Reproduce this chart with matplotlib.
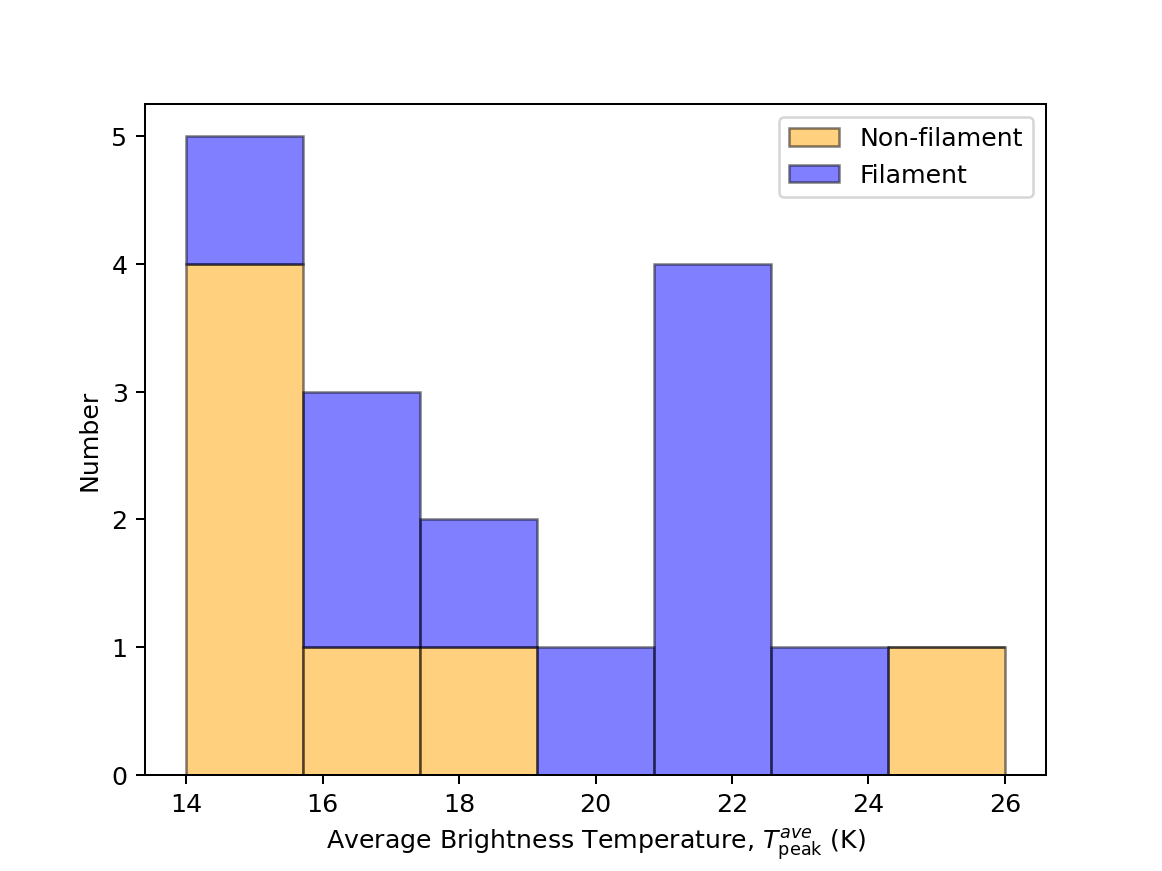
import matplotlib
matplotlib.use("Agg")
import matplotlib.pyplot as plt
import numpy as np

# histogram bins (7 equal bins between 14 K and 26 K)
t_min, t_max, n_bins = 14, 26, 7
non_filament = [4, 1, 1, 0, 0, 0, 1]
filament = [1, 2, 1, 1, 4, 1, 0]

edges = np.linspace(t_min, t_max, n_bins + 1)
widths = np.diff(edges)

fig, ax = plt.subplots(figsize=(6.4, 4.8), dpi=181.5625)

ax.bar(edges[:-1], non_filament, width=widths, align="edge",
       color="orange", alpha=0.5, edgecolor="black", linewidth=1,
       label="Non-filament")
ax.bar(edges[:-1], filament, width=widths, bottom=non_filament, align="edge",
       color="blue", alpha=0.5, edgecolor="black", linewidth=1,
       label="Filament")

ax.set_xticks([14, 16, 18, 20, 22, 24, 26])
ax.set_xlabel(r"Average Brightness Temperature, $T_{\rm peak}^{ave}$ (K)")
ax.set_ylabel("Number")
ax.legend(loc="upper right")

fig.savefig("out.png")
